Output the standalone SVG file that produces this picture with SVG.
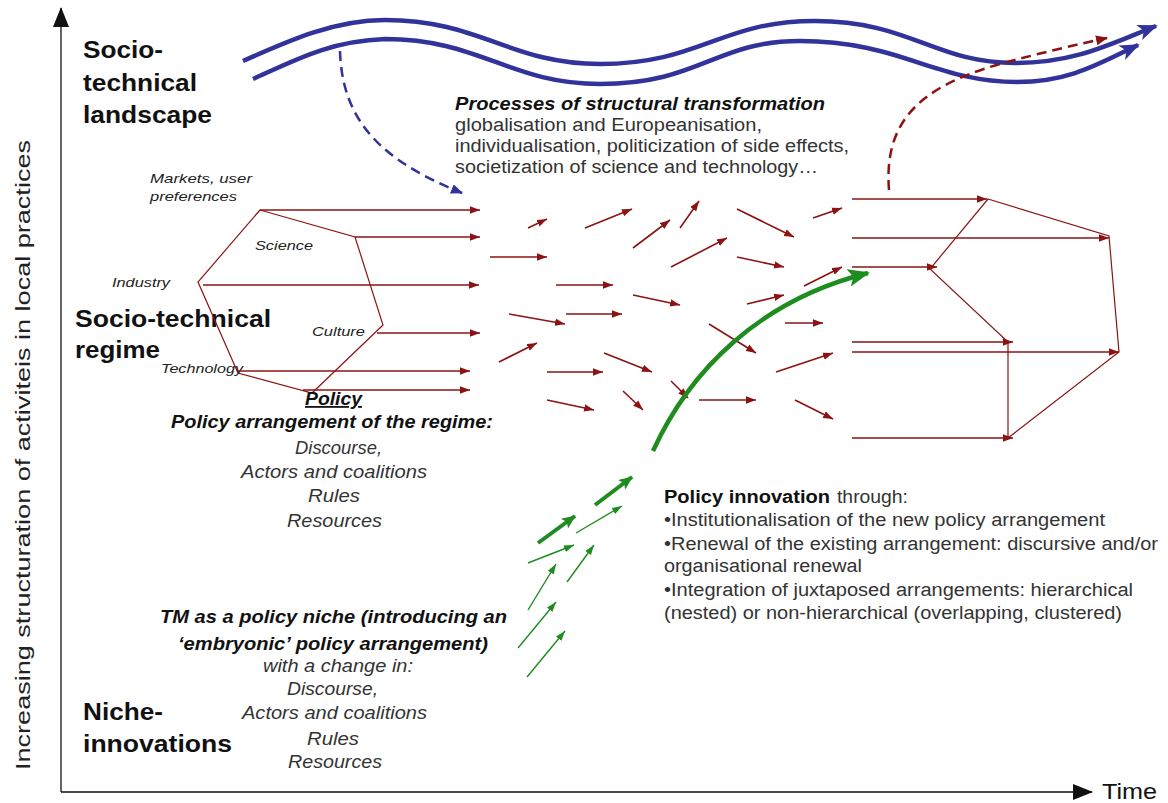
<svg xmlns="http://www.w3.org/2000/svg" width="1168" height="803" viewBox="0 0 1168 803">
<style>
text{font-family:"Liberation Sans",Arial,sans-serif}
.title{font-weight:bold;font-size:23px;fill:#111}
.reg{font-size:18px;fill:#333}
.it{font-style:italic}
.bi{font-weight:bold;font-style:italic;fill:#111}
.b{font-weight:bold;fill:#111}
.small{font-size:13.5px;font-style:italic;fill:#222}
.red{stroke:#8c1313;stroke-width:1.6;fill:none;marker-end:url(#ra)}
.hex{stroke:#8c1313;stroke-width:1.2;fill:none}
.gthin{stroke:#1e8c1e;stroke-width:1.4;fill:none;marker-end:url(#ga)}
.gthick{stroke:#1e8c1e;stroke-width:4;fill:none;marker-end:url(#gA)}
.wave{stroke:#32329b;stroke-width:4.5;fill:none;marker-end:url(#ba)}
.axis{stroke:#111;stroke-width:1.3;fill:none}
</style>
<defs>
<marker id="ra" markerUnits="userSpaceOnUse" markerWidth="10" markerHeight="8" refX="10" refY="4" orient="auto"><path d="M0,0.3 L10,4 L0,7.7 Z" fill="#8c1313"/></marker>
<marker id="ga" markerUnits="userSpaceOnUse" markerWidth="10" markerHeight="8" refX="10" refY="4" orient="auto"><path d="M0,0.5 L10,4 L0,7.5 Z" fill="#1e8c1e"/></marker>
<marker id="gA" markerUnits="userSpaceOnUse" markerWidth="14" markerHeight="12" refX="13" refY="6" orient="auto"><path d="M0,0 L14,6 L0,12 L3,6 Z" fill="#1e8c1e"/></marker>
<marker id="gB" markerUnits="userSpaceOnUse" markerWidth="22" markerHeight="18" refX="20" refY="9" orient="auto"><path d="M0,0 L22,9 L0,18 L5,9 Z" fill="#1e8c1e"/></marker>
<marker id="ba" markerUnits="userSpaceOnUse" markerWidth="20" markerHeight="16" refX="18" refY="8" orient="auto"><path d="M0,0 L20,8 L0,16 L5,8 Z" fill="#32329b"/></marker>
<marker id="bd" markerUnits="userSpaceOnUse" markerWidth="12" markerHeight="10" refX="11" refY="5" orient="auto"><path d="M0,0 L12,5 L0,10 Z" fill="#32329b"/></marker>
<marker id="rd" markerUnits="userSpaceOnUse" markerWidth="12" markerHeight="10" refX="11" refY="5" orient="auto"><path d="M0,0 L12,5 L0,10 Z" fill="#8c1313"/></marker>
<marker id="ax" markerUnits="userSpaceOnUse" markerWidth="20" markerHeight="16" refX="19" refY="8" orient="auto"><path d="M0,0 L20,8 L0,16 Z" fill="#111"/></marker>
</defs>

<g id="axes">
<line class="axis" x1="61" y1="792" x2="61" y2="8" marker-end="url(#ax)"/>
<line class="axis" x1="61" y1="792" x2="1092" y2="792" marker-end="url(#ax)"/>
<text transform="translate(30,455) rotate(-90)" text-anchor="middle" font-size="20" fill="#222" textLength="630" lengthAdjust="spacingAndGlyphs">Increasing structuration of activiteis in local practices</text>
<text x="1102" y="799" font-size="22" fill="#111" textLength="55" lengthAdjust="spacingAndGlyphs">Time</text>
</g>

<g id="level-labels">
<text class="title" x="83" y="58" textLength="80" lengthAdjust="spacingAndGlyphs">Socio-</text>
<text class="title" x="83" y="91" textLength="114" lengthAdjust="spacingAndGlyphs">technical</text>
<text class="title" x="83" y="123" textLength="129" lengthAdjust="spacingAndGlyphs">landscape</text>
<text class="title" x="75" y="327" textLength="196" lengthAdjust="spacingAndGlyphs">Socio-technical</text>
<text class="title" x="75" y="358" textLength="85" lengthAdjust="spacingAndGlyphs">regime</text>
<text class="title" x="83" y="720" textLength="80" lengthAdjust="spacingAndGlyphs">Niche-</text>
<text class="title" x="83" y="752" textLength="149" lengthAdjust="spacingAndGlyphs">innovations</text>
</g>

<g id="landscape">
<path class="wave" d="M243,61 C290,40 335,20 385,20 C480,20 510,64 600,64 C700,64 720,21 815,21 C910,21 935,63 1015,63 C1075,63 1110,44 1156,26"/>
<path class="wave" d="M253,79 C295,60 330,41 385,39 C480,39 510,84 600,84 C700,84 715,41 800,41 C900,41 935,82 1017,82 C1070,82 1100,63 1138,45"/>
<text x="455" y="110" class="bi" font-size="18" textLength="370" lengthAdjust="spacingAndGlyphs">Processes of structural transformation</text>
<text x="455" y="131" class="reg" textLength="307" lengthAdjust="spacingAndGlyphs">globalisation and Europeanisation,</text>
<text x="455" y="152" class="reg" textLength="394" lengthAdjust="spacingAndGlyphs">individualisation, politicization of side effects,</text>
<text x="455" y="173" class="reg" textLength="363" lengthAdjust="spacingAndGlyphs">societization of science and technology…</text>
</g>

<g id="regime-left">
<polygon class="hex" points="260,210 355,237 383,325 312,393 238,373 198,282"/>
<text class="small" x="150" y="183" textLength="102" lengthAdjust="spacingAndGlyphs">Markets, user</text>
<text class="small" x="150" y="201" textLength="87" lengthAdjust="spacingAndGlyphs">preferences</text>
<text class="small" x="255" y="250" textLength="58" lengthAdjust="spacingAndGlyphs">Science</text>
<text class="small" x="112" y="287" textLength="58" lengthAdjust="spacingAndGlyphs">Industry</text>
<text class="small" x="312" y="336" textLength="53" lengthAdjust="spacingAndGlyphs">Culture</text>
<text class="small" x="161" y="373" textLength="82" lengthAdjust="spacingAndGlyphs">Technology</text>
</g>

<g id="regime-right">
<path class="hex" d="M988,199 L1109,236 L1119,352 L1008,438 L1008,342 L930,269 Z"/>
</g>

<g id="policy-regime">
<text x="305" y="405" class="bi" font-size="18" text-decoration="underline" textLength="57" lengthAdjust="spacingAndGlyphs">Policy</text>
<text x="171" y="428" class="bi" font-size="18" textLength="322" lengthAdjust="spacingAndGlyphs">Policy arrangement of the regime:</text>
<text x="295" y="454" class="reg it" textLength="87" lengthAdjust="spacingAndGlyphs">Discourse,</text>
<text x="241" y="478" class="reg it" textLength="186" lengthAdjust="spacingAndGlyphs">Actors and coalitions</text>
<text x="308" y="502" class="reg it" textLength="52" lengthAdjust="spacingAndGlyphs">Rules</text>
<text x="287" y="527" class="reg it" textLength="95" lengthAdjust="spacingAndGlyphs">Resources</text>
</g>

<g id="policy-niche">
<text x="160" y="623" class="bi" font-size="18" textLength="347" lengthAdjust="spacingAndGlyphs">TM as a policy niche (introducing an</text>
<text x="178" y="650" class="bi" font-size="18" textLength="310" lengthAdjust="spacingAndGlyphs">‘embryonic’ policy arrangement)</text>
<text x="263" y="672" class="reg it" textLength="150" lengthAdjust="spacingAndGlyphs">with a change in:</text>
<text x="287" y="695" class="reg it" textLength="91" lengthAdjust="spacingAndGlyphs">Discourse,</text>
<text x="242" y="719" class="reg it" textLength="185" lengthAdjust="spacingAndGlyphs">Actors and coalitions</text>
<text x="307" y="745" class="reg it" textLength="52" lengthAdjust="spacingAndGlyphs">Rules</text>
<text x="288" y="768" class="reg it" textLength="94" lengthAdjust="spacingAndGlyphs">Resources</text>
</g>

<g id="policy-innovation">
<text x="664" y="503" class="b" font-size="18" textLength="166" lengthAdjust="spacingAndGlyphs">Policy innovation</text>
<text x="837" y="503" class="reg" textLength="71" lengthAdjust="spacingAndGlyphs">through:</text>
<text x="664" y="526" class="reg" textLength="441" lengthAdjust="spacingAndGlyphs">•Institutionalisation of the new policy arrangement</text>
<text x="664" y="550" class="reg" textLength="494" lengthAdjust="spacingAndGlyphs">•Renewal of the existing arrangement: discursive and/or</text>
<text x="664" y="572" class="reg" textLength="198" lengthAdjust="spacingAndGlyphs">organisational renewal</text>
<text x="664" y="596" class="reg" textLength="469" lengthAdjust="spacingAndGlyphs">•Integration of juxtaposed arrangements: hierarchical</text>
<text x="664" y="619" class="reg" textLength="458" lengthAdjust="spacingAndGlyphs">(nested) or non-hierarchical (overlapping, clustered)</text>
</g>

<g id="connectors">
<path d="M340,51 C342,120 380,160 462,193" fill="none" stroke="#32329b" stroke-width="2.5" stroke-dasharray="10,6" marker-end="url(#bd)"/>
<path d="M889,190 C884,125 915,88 1000,64 C1040,53 1075,45 1107,38" fill="none" stroke="#8c1313" stroke-width="2.5" stroke-dasharray="10,6" marker-end="url(#rd)"/>
<line class="red" x1="260" y1="210" x2="480" y2="210"/>
<line class="red" x1="355" y1="237" x2="480" y2="237"/>
<line class="red" x1="203" y1="285" x2="479" y2="285"/>
<line class="red" x1="377" y1="333" x2="480" y2="333"/>
<line class="red" x1="237" y1="371" x2="470" y2="371"/>
<line class="red" x1="303" y1="390" x2="470" y2="390"/>
<line class="red" x1="528" y1="228" x2="547" y2="219"/>
<line class="red" x1="490" y1="257" x2="547" y2="257"/>
<line class="red" x1="585" y1="228" x2="632" y2="209"/>
<line class="red" x1="633" y1="248" x2="670" y2="220"/>
<line class="red" x1="680" y1="228" x2="699" y2="201"/>
<line class="red" x1="737" y1="209" x2="794" y2="237"/>
<line class="red" x1="813" y1="218" x2="842" y2="208"/>
<line class="red" x1="671" y1="267" x2="727" y2="238"/>
<line class="red" x1="737" y1="257" x2="784" y2="267"/>
<line class="red" x1="556" y1="285" x2="613" y2="285"/>
<line class="red" x1="633" y1="295" x2="680" y2="305"/>
<line class="red" x1="804" y1="286" x2="842" y2="267"/>
<line class="red" x1="747" y1="304" x2="784" y2="295"/>
<line class="red" x1="509" y1="314" x2="565" y2="324"/>
<line class="red" x1="566" y1="314" x2="622" y2="314"/>
<line class="red" x1="499" y1="362" x2="537" y2="343"/>
<line class="red" x1="709" y1="324" x2="756" y2="353"/>
<line class="red" x1="785" y1="323" x2="823" y2="323"/>
<line class="red" x1="547" y1="372" x2="603" y2="372"/>
<line class="red" x1="604" y1="353" x2="652" y2="372"/>
<line class="red" x1="776" y1="372" x2="833" y2="353"/>
<line class="red" x1="547" y1="400" x2="594" y2="410"/>
<line class="red" x1="623" y1="391" x2="643" y2="410"/>
<line class="red" x1="671" y1="381" x2="688" y2="398"/>
<line class="red" x1="699" y1="400" x2="756" y2="400"/>
<line class="red" x1="795" y1="400" x2="833" y2="419"/>
<line class="red" x1="852" y1="199" x2="987" y2="199"/>
<line class="red" x1="852" y1="238" x2="1109" y2="238"/>
<line class="red" x1="852" y1="267" x2="937" y2="267"/>
<line class="red" x1="852" y1="342" x2="1013" y2="342"/>
<line class="red" x1="852" y1="352" x2="1119" y2="352"/>
<line class="red" x1="852" y1="438" x2="1013" y2="438"/>
<line class="gthin" x1="527" y1="677" x2="565" y2="631"/>
<line class="gthin" x1="518" y1="648" x2="556" y2="602"/>
<line class="gthin" x1="528" y1="610" x2="556" y2="564"/>
<line class="gthin" x1="567" y1="582" x2="594" y2="545"/>
<line class="gthin" x1="528" y1="563" x2="574" y2="545"/>
<line class="gthin" x1="576" y1="533" x2="622" y2="506"/>
<line class="gthick" x1="538" y1="543" x2="575" y2="516"/>
<line class="gthick" x1="595" y1="505" x2="632" y2="477"/>
<path d="M653,451 C690,370 760,300 868,273" fill="none" stroke="#1e8c1e" stroke-width="4.5" marker-end="url(#gB)"/>
</g>
</svg>
